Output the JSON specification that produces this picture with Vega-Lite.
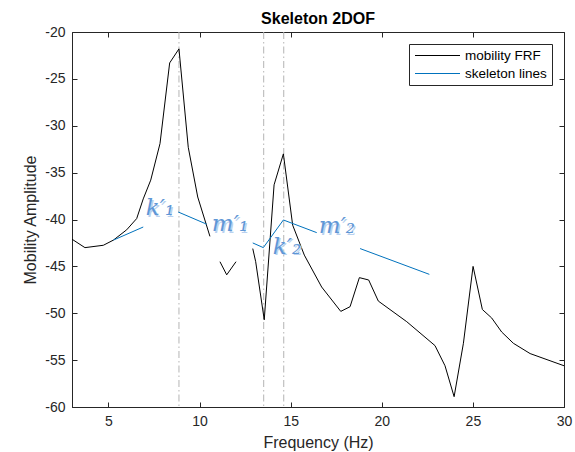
{
  "$schema": "https://vega.github.io/schema/vega-lite/v6.json",
  "width": 492,
  "height": 375,
  "autosize": {"type": "none"},
  "padding": {"left": 72, "top": 32, "right": 11, "bottom": 45},
  "background": "white",
  "title": {"text": "Skeleton 2DOF", "font": "Liberation Sans", "fontSize": 16, "fontWeight": "bold", "color": "#000000", "anchor": "middle", "baseline": "alphabetic", "offset": 8, "dy": 23},
  "config": {
    "view": {"stroke": "#262626", "strokeWidth": 1},
    "axis": {"labelFont": "Liberation Sans", "titleFont": "Liberation Sans", "labelColor": "#262626", "titleColor": "#262626", "domainColor": "#262626", "tickColor": "#262626", "grid": false, "labelFontSize": 14, "titleFontSize": 16, "titleFontWeight": "normal"}
  },
  "datasets": {
    "lines": [
      {"s": "mobility FRF", "g": "A", "f": 3.0, "v": -42.1},
      {"s": "mobility FRF", "g": "A", "f": 3.71, "v": -43.0},
      {"s": "mobility FRF", "g": "A", "f": 4.72, "v": -42.75},
      {"s": "mobility FRF", "g": "A", "f": 5.27, "v": -42.2},
      {"s": "mobility FRF", "g": "A", "f": 6.0, "v": -41.1},
      {"s": "mobility FRF", "g": "A", "f": 6.55, "v": -39.9},
      {"s": "mobility FRF", "g": "A", "f": 6.91, "v": -37.8},
      {"s": "mobility FRF", "g": "A", "f": 7.32, "v": -35.8},
      {"s": "mobility FRF", "g": "A", "f": 7.83, "v": -31.9},
      {"s": "mobility FRF", "g": "A", "f": 8.36, "v": -23.3},
      {"s": "mobility FRF", "g": "A", "f": 8.87, "v": -21.8},
      {"s": "mobility FRF", "g": "A", "f": 9.38, "v": -32.3},
      {"s": "mobility FRF", "g": "A", "f": 9.9, "v": -37.6},
      {"s": "mobility FRF", "g": "A", "f": 10.57, "v": -41.8},
      {"s": "mobility FRF", "g": "B", "f": 11.12, "v": -44.5},
      {"s": "mobility FRF", "g": "B", "f": 11.49, "v": -45.9},
      {"s": "mobility FRF", "g": "B", "f": 12.0, "v": -44.5},
      {"s": "mobility FRF", "g": "C", "f": 12.92, "v": -43.1},
      {"s": "mobility FRF", "g": "C", "f": 13.08, "v": -44.5},
      {"s": "mobility FRF", "g": "C", "f": 13.55, "v": -50.7},
      {"s": "mobility FRF", "g": "C", "f": 14.09, "v": -36.3},
      {"s": "mobility FRF", "g": "C", "f": 14.6, "v": -33.0},
      {"s": "mobility FRF", "g": "C", "f": 15.11, "v": -40.6},
      {"s": "mobility FRF", "g": "C", "f": 15.75, "v": -43.8},
      {"s": "mobility FRF", "g": "C", "f": 16.7, "v": -47.2},
      {"s": "mobility FRF", "g": "C", "f": 17.75, "v": -49.8},
      {"s": "mobility FRF", "g": "C", "f": 18.26, "v": -49.3},
      {"s": "mobility FRF", "g": "C", "f": 18.77, "v": -46.2},
      {"s": "mobility FRF", "g": "C", "f": 19.28, "v": -46.45},
      {"s": "mobility FRF", "g": "C", "f": 19.81, "v": -48.7},
      {"s": "mobility FRF", "g": "C", "f": 21.37, "v": -50.9},
      {"s": "mobility FRF", "g": "C", "f": 22.92, "v": -53.45},
      {"s": "mobility FRF", "g": "C", "f": 23.47, "v": -55.6},
      {"s": "mobility FRF", "g": "C", "f": 23.97, "v": -58.9},
      {"s": "mobility FRF", "g": "C", "f": 24.48, "v": -53.2},
      {"s": "mobility FRF", "g": "C", "f": 25.01, "v": -45.0},
      {"s": "mobility FRF", "g": "C", "f": 25.52, "v": -49.6},
      {"s": "mobility FRF", "g": "C", "f": 26.03, "v": -50.5},
      {"s": "mobility FRF", "g": "C", "f": 26.58, "v": -52.0},
      {"s": "mobility FRF", "g": "C", "f": 27.22, "v": -53.2},
      {"s": "mobility FRF", "g": "C", "f": 28.14, "v": -54.3},
      {"s": "mobility FRF", "g": "C", "f": 30.0, "v": -55.6},
      {"s": "skeleton lines", "g": "S1", "f": 5.27, "v": -42.2},
      {"s": "skeleton lines", "g": "S1", "f": 6.91, "v": -40.8},
      {"s": "skeleton lines", "g": "S2", "f": 8.83, "v": -39.2},
      {"s": "skeleton lines", "g": "S2", "f": 10.39, "v": -40.5},
      {"s": "skeleton lines", "g": "S3", "f": 12.92, "v": -42.5},
      {"s": "skeleton lines", "g": "S3", "f": 13.5, "v": -43.0},
      {"s": "skeleton lines", "g": "S3", "f": 14.6, "v": -40.05},
      {"s": "skeleton lines", "g": "S3", "f": 16.43, "v": -41.4},
      {"s": "skeleton lines", "g": "S4", "f": 18.81, "v": -43.1},
      {"s": "skeleton lines", "g": "S4", "f": 22.61, "v": -45.85}
    ],
    "vlines": [{"f": 8.87}, {"f": 13.52}, {"f": 14.62}],
    "labels": [
      {"t": "k′₁", "f": 7.83, "v": -38.8},
      {"t": "m′₁", "f": 11.67, "v": -40.5},
      {"t": "k′₂", "f": 14.8, "v": -42.9},
      {"t": "m′₂", "f": 17.54, "v": -40.7}
    ]
  },
  "layer": [
    {
      "data": {"name": "vlines"},
      "mark": {"type": "rule", "color": "#b4b4b4", "strokeWidth": 1, "strokeDash": [7, 3, 1.5, 3]},
      "encoding": {
        "x": {"field": "f", "type": "quantitative", "scale": {"domain": [3, 30], "nice": false, "zero": false}, "axis": null}
      }
    },
    {
      "data": {"name": "lines"},
      "mark": {"type": "line", "strokeWidth": 1, "clip": true},
      "encoding": {
        "x": {"field": "f", "type": "quantitative", "scale": {"domain": [3, 30], "nice": false, "zero": false},
              "axis": {"orient": "bottom", "title": "Frequency (Hz)", "values": [5, 10, 15, 20, 25, 30], "tickSize": -5, "labelPadding": 12, "titleY": 27, "labelFlush": false, "labelExpr": "'' + datum.value"}},
        "y": {"field": "v", "type": "quantitative", "scale": {"domain": [-60, -20], "nice": false, "zero": false},
              "axis": {"orient": "left", "title": "Mobility Amplitude", "values": [-60, -55, -50, -45, -40, -35, -30, -25, -20], "tickSize": -5, "labelPadding": 12, "titleX": -34, "labelExpr": "'' + datum.value"}},
        "color": {"field": "s", "type": "nominal", "scale": {"domain": ["mobility FRF", "skeleton lines"], "range": ["#000000", "#0072BD"]},
                  "legend": {"title": null, "orient": "top-right", "offset": 12, "strokeColor": "#262626", "fillColor": "white", "padding": 5, "symbolType": "stroke", "symbolSize": 2025, "clipHeight": 13, "symbolStrokeWidth": 1.2, "labelFont": "Liberation Sans", "labelFontSize": 13.5, "labelColor": "#000000", "rowPadding": 4, "labelOffset": 4}},
        "detail": {"field": "g", "type": "nominal"}
      }
    },
    {
      "data": {"name": "labels"},
      "mark": {"type": "text", "font": "DejaVu Serif", "fontStyle": "italic", "fontSize": 23, "color": "#b9d1ef", "align": "center", "baseline": "middle", "dx": 1.5, "dy": 1.5},
      "encoding": {
        "x": {"field": "f", "type": "quantitative", "scale": {"domain": [3, 30], "nice": false, "zero": false}, "axis": null},
        "y": {"field": "v", "type": "quantitative", "scale": {"domain": [-60, -20], "nice": false, "zero": false}, "axis": null},
        "text": {"field": "t", "type": "nominal"}
      }
    },
    {
      "data": {"name": "labels"},
      "mark": {"type": "text", "font": "DejaVu Serif", "fontStyle": "italic", "fontSize": 23, "color": "#5f97d6", "align": "center", "baseline": "middle"},
      "encoding": {
        "x": {"field": "f", "type": "quantitative", "scale": {"domain": [3, 30], "nice": false, "zero": false},
              "axis": {"orient": "top", "labels": false, "title": null, "domain": false, "values": [5, 10, 15, 20, 25, 30], "tickSize": -5}},
        "y": {"field": "v", "type": "quantitative", "scale": {"domain": [-60, -20], "nice": false, "zero": false},
              "axis": {"orient": "right", "labels": false, "title": null, "domain": false, "values": [-60, -55, -50, -45, -40, -35, -30, -25, -20], "tickSize": -5}},
        "text": {"field": "t", "type": "nominal"}
      }
    }
  ],
  "resolve": {"axis": {"x": "independent", "y": "independent"}}
}
